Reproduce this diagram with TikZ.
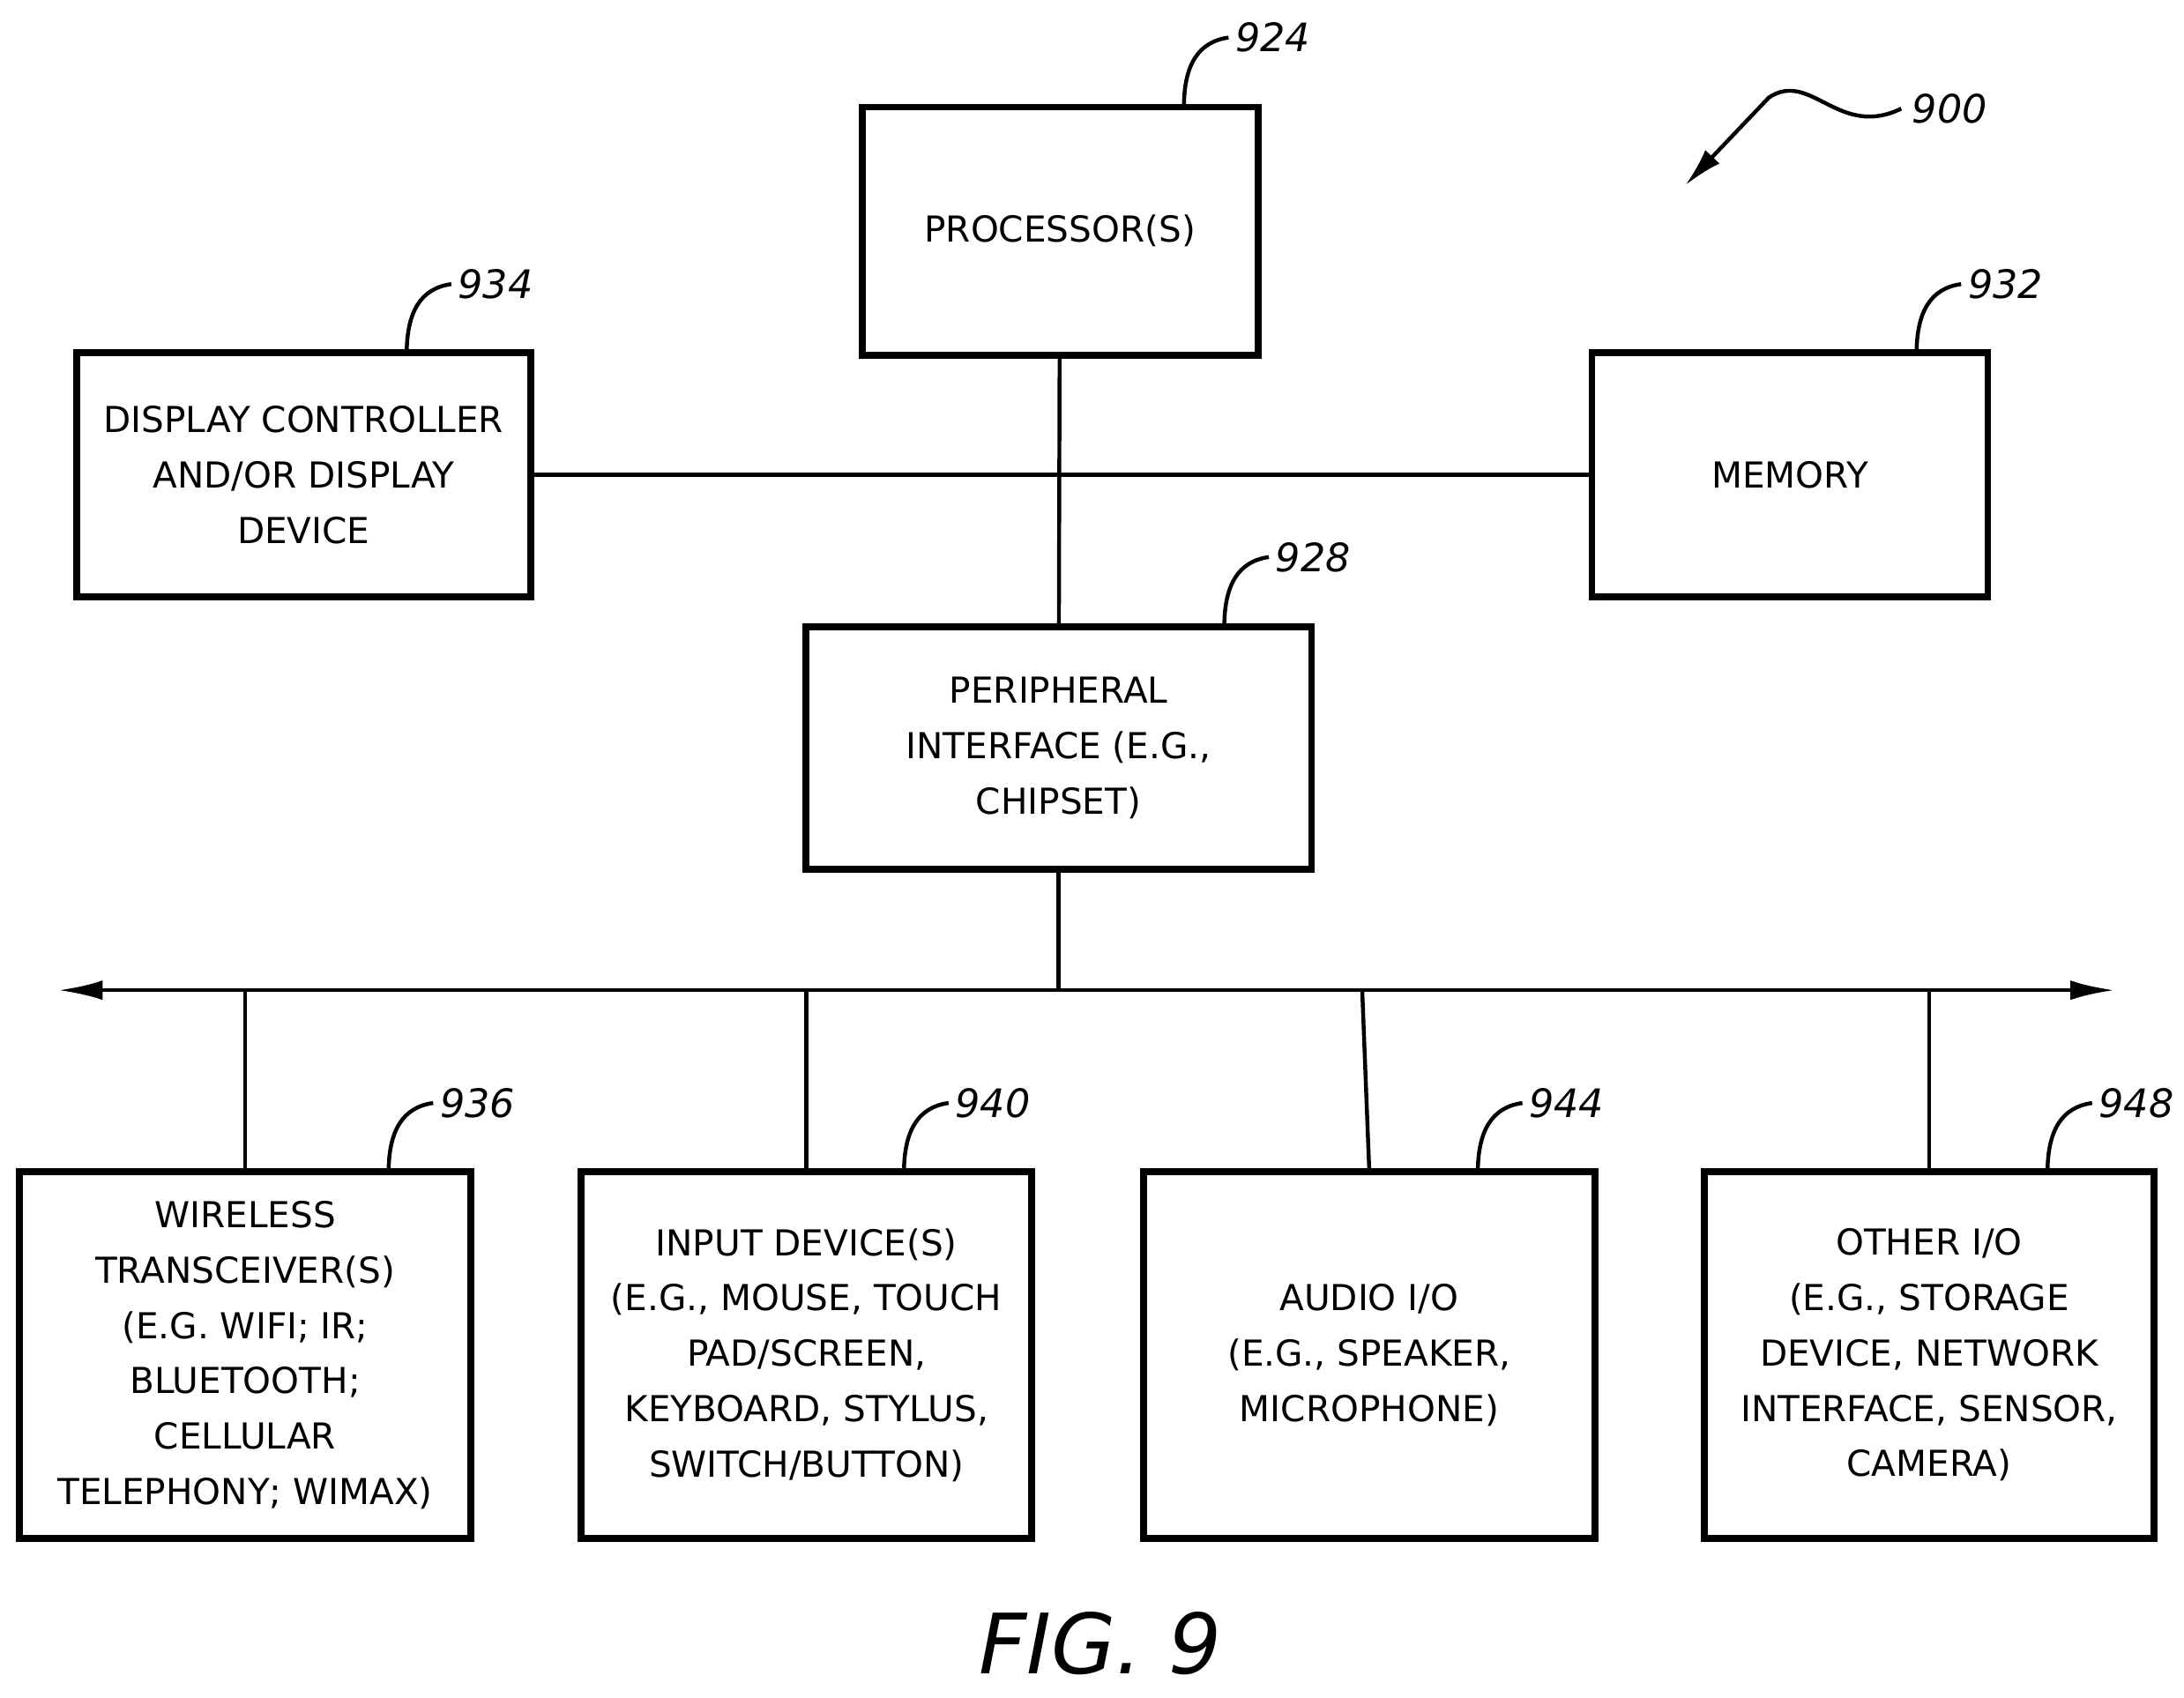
\documentclass[tikz,border=0pt]{standalone}
\usepackage{fontspec}
\setmainfont{DejaVu Sans}
\usetikzlibrary{positioning,arrows.meta}
\newcommand{\refnum}[3]{\draw[thick] (#1) .. controls +(0,-30) and +(-22,3) .. ++(32,-50) node[right,inner sep=1pt,font=\fontsize{8}{10}\selectfont\itshape] {#3};}
\begin{document}
\begin{tikzpicture}[x=0.01cm,y=-0.01cm, thick,
  box/.style = {draw, line width=1.4pt, align=center, font=\fontsize{7.3}{11.3}\selectfont, inner sep=0pt}]
\useasboundingbox (0,0) rectangle (1568,1219);
\node[box, minimum width=2.84cm, minimum height=1.78cm] (proc) at (761,166) {PROCESSOR(S)};
\node[box, minimum width=3.26cm, minimum height=1.75cm] (disp) at (218,341) {DISPLAY CONTROLLER\\AND/OR DISPLAY\\DEVICE};
\node[box, minimum width=2.84cm, minimum height=1.75cm] (mem) at (1285,341) {MEMORY};
\node[box, minimum width=3.63cm, minimum height=1.74cm] (peri) at (760,537) {PERIPHERAL\\INTERFACE (E.G.,\\CHIPSET)};
\node[box, minimum width=3.24cm, minimum height=2.63cm] (wire) at (176,973) {WIRELESS\\TRANSCEIVER(S)\\(E.G. WIFI; IR;\\BLUETOOTH;\\CELLULAR\\TELEPHONY; WIMAX)};
\node[box, minimum width=3.23cm, minimum height=2.63cm] (inp) at (579,973) {INPUT DEVICE(S)\\(E.G., MOUSE, TOUCH\\PAD/SCREEN,\\KEYBOARD, STYLUS,\\SWITCH/BUTTON)};
\node[box, minimum width=3.24cm, minimum height=2.63cm] (aud) at (983,973) {AUDIO I/O\\(E.G., SPEAKER,\\MICROPHONE)};
\node[box, minimum width=3.23cm, minimum height=2.63cm] (oth) at (1385,973) {OTHER I/O\\(E.G., STORAGE\\DEVICE, NETWORK\\INTERFACE, SENSOR,\\CAMERA)};
% bus
\coordinate (busL) at (42,711);
\coordinate (busR) at (1518,711);
\draw[{Latex[length=9pt,width=4pt]}-{Latex[length=9pt,width=4pt]}] (busL) -- (busR);
\draw (proc) -- (peri);
\draw (disp) -- (mem);
\draw (peri.south) -- (peri.south |- busL);
\draw (wire.north) -- (wire.north |- busL);
\draw (inp.north) -- (inp.north |- busL);
\draw (aud.north) -- (978,711);
\draw (oth.north) -- (oth.north |- busL);
% reference numerals
\refnum{850,77}{proc}{924}
\refnum{292,254}{disp}{934}
\refnum{1376,254}{mem}{932}
\refnum{879,450}{peri}{928}
\refnum{279,842}{wire}{936}
\refnum{649,842}{inp}{940}
\refnum{1061,842}{aud}{944}
\refnum{1470,842}{oth}{948}
\coordinate (arrtip) at (1210,133);
\draw[-{Latex[length=8pt,width=4pt]}] (1365,78) .. controls (1320,100) and (1300,50) .. (1270,70) -- (arrtip);
\node[font=\fontsize{8}{10}\selectfont\itshape, right, inner sep=1pt] (lbl) at (1368,78) {900};
\node[font=\fontsize{17}{20}\selectfont\itshape] (fig) at (790,1180) {FIG. 9};
\end{tikzpicture}
\end{document}
